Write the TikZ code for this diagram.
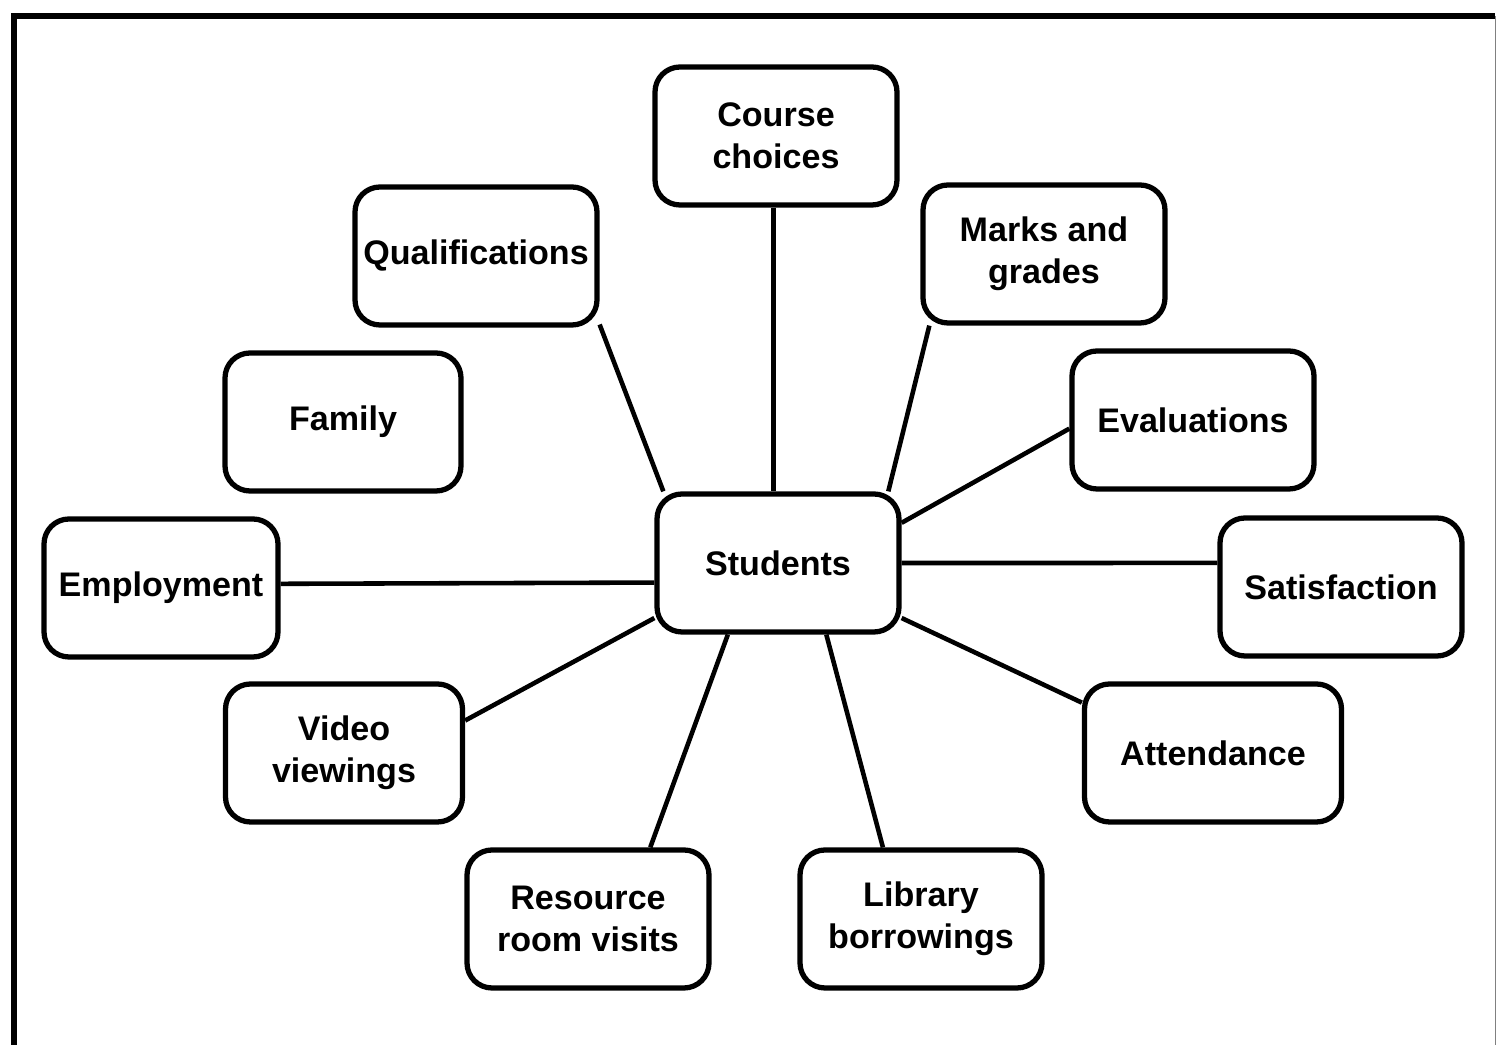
\documentclass[tikz,border=0pt]{standalone}
\usepackage{fontspec}
\setmainfont{Liberation Sans}
\usepackage{tikz}
\usetikzlibrary{
    positioning,
    calc
}
\tikzset{
    % Lines
    frame line/.style={line width=1.6pt},
    link/.style={line width=1.3pt},
    %
    % Boxes
    topic box/.style={draw,line width=1.5pt,rounded corners=0.25cm,align=center,
        minimum width=2.42cm,minimum height=1.38cm,inner sep=2pt}
}
\tikzstyle{every node}=[font=\fontsize{9.7}{12}\selectfont\bfseries]

\begin{document}
\begin{tikzpicture}
    \useasboundingbox (0,0) rectangle (14.97,10.45);
    \draw[frame line] (0.14,0) -- (0.14,10.29) -- (14.95,10.29);
    \draw[very thin,gray] (14.95,10.29) -- (14.95,0);

    \node[topic box] (students) at (7.78,4.82) {Students};
    \node[topic box] (course) at (7.76,9.09) {Course\\choices};
    \node[topic box] (qual) at (4.76,7.89) {Qualifications};
    \node[topic box] (marks) at (10.44,7.91) {Marks and\\grades};
    \node[topic box,minimum width=2.36cm] (family) at (3.43,6.23) {Family};
    \node[topic box] (eval) at (11.93,6.25) {Evaluations};
    \node[topic box,minimum width=2.34cm] (employ) at (1.61,4.57) {Employment};
    \node[topic box] (satisf) at (13.41,4.58) {Satisfaction};
    \node[topic box,minimum width=2.37cm] (video) at (3.44,2.92) {Video\\viewings};
    \node[topic box,minimum width=2.57cm] (attend) at (12.13,2.92) {Attendance};
    \node[topic box] (resource) at (5.88,1.26) {Resource\\room visits};
    \node[topic box] (library) at (9.21,1.26) {Library\\borrowings};

    \draw[link] (course.-92) -- (course.-92 |- students.north);
    \draw[link] (qual.-29) -- (students.148);
    \draw[link] (marks.212) -- (students.33);
    \draw[link] (eval.184) -- (students.18);
    \draw[link] (satisf.169) -- (students.east);
    \draw[link] (employ.2) -- (students.189);
    \draw[link] (attend.159) -- (students.-24);
    \draw[link] (video.15) -- (students.204);
    \draw[link] (resource.49) -- (students.-125);
    \draw[link] (library.118) -- (students.-56);
\end{tikzpicture}
\end{document}
